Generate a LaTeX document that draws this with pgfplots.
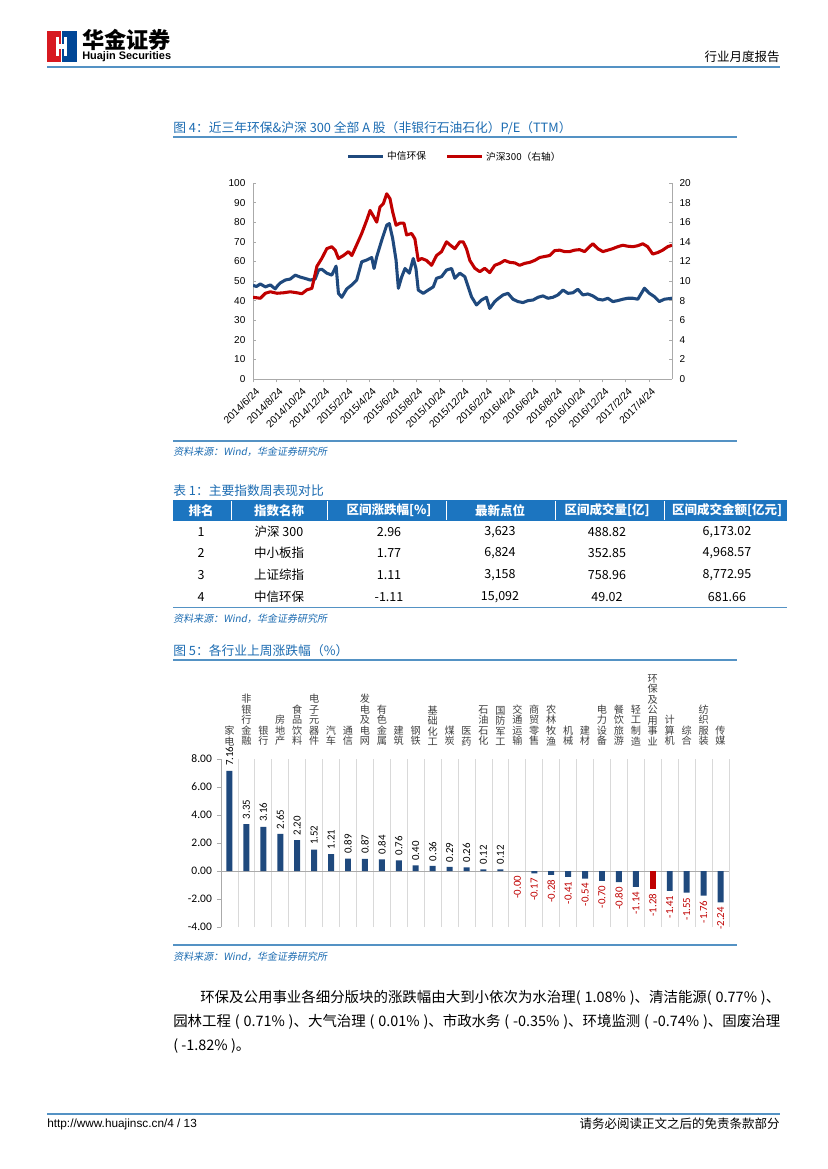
\documentclass[border=0pt]{standalone}
\usepackage{pgfplots}
\pgfplotsset{compat=1.18}
\usepackage{fontspec}
\setmainfont{Liberation Sans}
\newfontfamily\cjk{Noto Sans CJK SC}
\newfontfamily\cjkit{Noto Sans CJK SC}[FakeSlant=0.18]
\newfontfamily\calib{Carlito}
\definecolor{serblue}{RGB}{31,73,125}
\definecolor{serred}{RGB}{192,0,0}
\definecolor{ttlblue}{RGB}{28,108,178}
\definecolor{rulblue}{RGB}{84,146,196}
\definecolor{hdrblue}{RGB}{28,117,192}
\definecolor{axgray}{RGB}{170,170,170}
\definecolor{grdgray}{RGB}{217,217,217}
\definecolor{lblgray}{RGB}{64,64,64}
\definecolor{logored}{RGB}{215,25,32}
\definecolor{logoblue}{RGB}{0,70,150}
\newcommand{\fs}[1]{\fontsize{#1pt}{#1pt}\selectfont}

\begin{document}
\begin{tikzpicture}[x=0.72pt,y=-0.72pt]
\fill[white] (0,0) rectangle (827,1169);

% page header
\fill[logored] (47,31) rectangle (61,62);
\fill[logoblue] (62,31) rectangle (77,62);
\fill[white] (56,37) rectangle (59,56);
\fill[white] (59,44) rectangle (66,49);
\fill[white] (64,37) rectangle (67,56);
\node[anchor=west,inner sep=0,font=\cjk\bfseries\fs{16}] at (82,40) {华金证券};
\node[anchor=west,inner sep=0,font=\bfseries] at (82,57) {\resizebox{64pt}{!}{Huajin Securities}};
\node[anchor=east,inner sep=0,font=\cjk\fs{9}] at (780,57) {行业月度报告};
\draw[rulblue,line width=1.2pt] (47,67) -- (780,67);

% figure 4
\node[anchor=west,inner sep=0,font=\cjk\fs{9.2},text=ttlblue] at (173,128) {图 4：近三年环保\&沪深 300 全部 A 股（非银行石油石化）P/E（TTM）};
\draw[rulblue,line width=0.8pt] (173,137) -- (737,137);
\coordinate (p1) at (253,379);

\begin{axis}[
  at={(p1)}, anchor=south west, scale only axis,
  width=301.68pt, height=141.12pt,
  xmin=0, xmax=36, ymin=0, ymax=100,
  axis x line*=bottom, axis y line*=left,
  axis line style={axgray},
  tick style={axgray}, major tick length=2.5pt,
  xtick={0,2,...,34}, xtick align=outside, ytick align=inside,
  xticklabels={2014/6/24,2014/8/24,2014/10/24,2014/12/24,2015/2/24,2015/4/24,2015/6/24,2015/8/24,2015/10/24,2015/12/24,2016/2/24,2016/4/24,2016/6/24,2016/8/24,2016/10/24,2016/12/24,2017/2/24,2017/4/24},
  xticklabel style={rotate=45, anchor=north east, font=\fs{7.4}, inner sep=1pt, yshift=-2pt},
  ytick={0,10,...,100},
  yticklabel style={font=\fs{7.2}, /pgf/number format/assume math mode=true, xshift=-2pt},
  legend style={at={(0.482,1.133)}, anchor=center, draw=none, fill=none, font=\cjk\fs{7}, legend columns=2, /tikz/every even column/.append style={column sep=12pt}},
  legend image code/.code={\draw[#1] (0pt,0pt) -- (25pt,0pt);},
  legend cell align=left,
]
\addplot[serblue, line width=2.2pt, line join=round] coordinates {
(0,47.8)(0.3,47.2)(0.63,48.5)(1.06,47)(1.49,48)(1.91,46)(2.1,47.5)(2.34,49)(2.77,50.5)(3.2,51)(3.63,53)(4.06,52)(4.49,51.3)(4.91,50.5)(5.34,51)(5.63,55.6)(5.91,56)(6.34,54)(6.77,53)(7.14,57.6)(7.34,43.7)(7.63,41.7)(8.06,46)(8.49,48)(8.91,50.5)(9.34,59.8)(9.77,60.7)(10.2,62)(10.4,56.4)(10.63,62.4)(11.06,70.8)(11.49,78.5)(11.71,79.3)(12.0,71.7)(12.29,60.7)(12.49,46.3)(12.77,52)(13.06,56.4)(13.43,54)(13.77,61.5)(14.0,56.4)(14.2,45.4)(14.63,43.7)(15.06,45.4)(15.49,47)(15.77,51.4)(16.2,52.2)(16.63,55.6)(17.06,56.4)(17.34,51.4)(17.77,54)(18.2,52.2)(18.49,47)(18.77,42)(19.2,37.8)(19.63,40.3)(20.06,41.7)(20.34,36)(20.77,39.5)(21.06,41)(21.49,42.9)(21.91,43.7)(22.34,40.7)(22.77,39.5)(23.2,39)(23.63,40)(24.06,40.3)(24.49,41.7)(24.91,42.4)(25.34,41.2)(25.77,41.7)(26.2,42.9)(26.63,45.4)(27.06,43.7)(27.49,44)(27.91,45.8)(28.34,42.9)(28.77,43.4)(29.2,42.4)(29.63,40.7)(30.06,40.3)(30.49,41.2)(30.91,39.5)(31.34,40)(31.77,40.7)(32.2,41.2)(32.63,41.2)(33.06,40.7)(33.63,46.3)(34.06,43.7)(34.49,42)(34.91,39.5)(35.34,40.7)(36,41.2)
};
\addlegendentry{中信环保}
\addlegendimage{serred, line width=2.2pt}
\addlegendentry{沪深300（右轴）}
\end{axis}

\begin{axis}[
  at={(p1)}, anchor=south west, scale only axis,
  width=301.68pt, height=141.12pt,
  xmin=0, xmax=36, ymin=0, ymax=20,
  axis x line=none, axis y line*=right,
  axis line style={axgray},
  tick style={axgray}, major tick length=2.5pt, ytick align=inside,
  ytick={0,2,...,20},
  yticklabel style={font=\fs{7.2}, /pgf/number format/assume math mode=true, xshift=2pt},
]
\addplot[serred, line width=2.2pt, line join=round] coordinates {
(0,8.34)(0.63,8.24)(1.06,8.75)(1.49,8.9)(2.06,8.75)(2.63,8.8)(3.2,8.9)(3.77,8.8)(4.2,8.7)(4.63,9.1)(5.06,9.25)(5.49,11.5)(5.91,12.3)(6.34,13.3)(6.77,13.5)(7.06,13.15)(7.34,12.3)(7.77,12.6)(8.2,13.0)(8.49,12.6)(8.91,13.7)(9.34,14.85)(9.77,16.2)(10.06,17.2)(10.4,16.5)(10.63,16.0)(10.91,17.55)(11.2,17.9)(11.49,18.9)(11.77,18.4)(12.0,17.05)(12.29,15.7)(12.63,15.9)(12.97,15.9)(13.2,14.7)(13.63,14.85)(13.91,14.3)(14.2,12.1)(14.49,12.3)(14.91,12.1)(15.34,11.6)(15.77,12.6)(16.2,13.0)(16.63,14.0)(16.91,13.7)(17.34,13.3)(17.77,14.0)(18.06,14.0)(18.34,13.3)(18.63,12.1)(19.06,11.3)(19.49,10.95)(19.91,11.3)(20.34,10.85)(20.77,11.6)(21.2,11.8)(21.63,12.1)(22.06,11.9)(22.49,11.85)(22.91,11.6)(23.34,11.8)(23.77,11.9)(24.2,12.1)(24.63,12.4)(25.06,12.5)(25.49,12.6)(25.91,13.1)(26.34,13.15)(26.77,13.0)(27.2,13.0)(27.63,13.15)(28.06,13.2)(28.49,13.0)(28.91,13.5)(29.2,13.8)(29.63,13.3)(30.06,13.0)(30.49,13.15)(30.91,13.3)(31.34,13.5)(31.77,13.65)(32.2,13.55)(32.63,13.5)(33.06,13.6)(33.49,13.8)(33.91,13.5)(34.34,12.75)(34.77,12.9)(35.2,13.15)(35.63,13.5)(36,13.65)
};
\end{axis}

\draw[rulblue,line width=0.8pt] (173,441) -- (737,441);
\node[anchor=west,inner sep=0,font=\cjkit\fs{7.2},text=ttlblue] at (173,452) {资料来源：Wind，华金证券研究所};

% table 1
\node[anchor=west,inner sep=0,font=\cjk\fs{9.2},text=ttlblue] at (173,491) {表 1：主要指数周表现对比};
\fill[hdrblue] (173,500) rectangle (787,521);
\foreach \xx in {231,327,446,555,664} \draw[white,line width=0.5pt] (\xx,501) -- (\xx,520);
\foreach \xx/\tt in {201/排名,279/指数名称,389/区间涨跌幅[\%],500/最新点位,607/区间成交量[亿],727/区间成交金额[亿元]}
  \node[inner sep=0,font=\cjk\bfseries\fs{9},text=white] at (\xx,510.5) {\tt};
\foreach \xx/\tt in {201/1,279/沪深 300,389/2.96,500/{3,623},607/488.82,727/{6,173.02}}
  \node[inner sep=0,font=\cjk\fs{9}] at (\xx,532) {\tt};
\foreach \xx/\tt in {201/2,279/中小板指,389/1.77,500/{6,824},607/352.85,727/{4,968.57}}
  \node[inner sep=0,font=\cjk\fs{9}] at (\xx,553) {\tt};
\foreach \xx/\tt in {201/3,279/上证综指,389/1.11,500/{3,158},607/758.96,727/{8,772.95}}
  \node[inner sep=0,font=\cjk\fs{9}] at (\xx,575) {\tt};
\foreach \xx/\tt in {201/4,279/中信环保,389/-1.11,500/{15,092},607/49.02,727/681.66}
  \node[inner sep=0,font=\cjk\fs{9}] at (\xx,597) {\tt};
\draw[rulblue,line width=1.2pt] (173,607.5) -- (787,607.5);
\node[anchor=west,inner sep=0,font=\cjkit\fs{7.2},text=ttlblue] at (173,619) {资料来源：Wind，华金证券研究所};

% figure 5
\node[anchor=west,inner sep=0,font=\cjk\fs{9.2},text=ttlblue] at (173,651) {图 5：各行业上周涨跌幅（\%）};
\draw[rulblue,line width=0.8pt] (173,660) -- (737,660);
\coordinate (p2) at (221,927);

\begin{axis}[
  at={(p2)}, anchor=south west, scale only axis,
  width=365.76pt, height=120.96pt,
  xmin=-0.5, xmax=29.5, ymin=-4, ymax=8,
  axis y line*=left, axis x line*=top,
  x axis line style={draw=none},
  axis line style={axgray},
  ytick={-4,-2,...,8}, ytick align=outside, major tick length=3pt,
  y tick style={axgray},
  yticklabel style={font=\calib\fs{8.3}, /pgf/number format/.cd, fixed, fixed zerofill, precision=2, assume math mode=true},
  scaled y ticks=false,
  xtick={0,...,29}, major x tick style={draw=none},
  xticklabels={{家\\电},{非\\银\\行\\金\\融},{银\\行},{房\\地\\产},{食\\品\\饮\\料},{电\\子\\元\\器\\件},{汽\\车},{通\\信},{发\\电\\及\\电\\网},{有\\色\\金\\属},{建\\筑},{钢\\铁},{基\\础\\化\\工},{煤\\炭},{医\\药},{石\\油\\石\\化},{国\\防\\军\\工},{交\\通\\运\\输},{商\\贸\\零\\售},{农\\林\\牧\\渔},{机\\械},{建\\材},{电\\力\\设\\备},{餐\\饮\\旅\\游},{轻\\工\\制\\造},{环\\保\\及\\公\\用\\事\\业},{计\\算\\机},{综\\合},{纺\\织\\服\\装},{传\\媒}},
  xticklabel style={font=\cjk\fontsize{7.3pt}{7.6pt}\selectfont, align=center, text=lblgray, yshift=3pt},
  minor xtick={0.5,1.5,...,29.5}, minor tick length=0pt,
  xminorgrids, minor x grid style={grdgray, line width=0.6pt},
  extra y ticks={0}, extra y tick labels={},
  extra y tick style={grid=major, major grid style={axgray, line width=0.6pt}, major tick length=0pt},
  ybar, bar width=4.3pt,
  point meta=explicit symbolic,
  nodes near coords,
]
\addplot[fill=serblue, draw=none, bar shift=0pt,
  nodes near coords style={rotate=90, anchor=west, font=\calib\fs{7.8}, text=black}]
  table[meta=l] {
x y l
0 7.16 7.16
1 3.35 3.35
2 3.16 3.16
3 2.65 2.65
4 2.20 2.20
5 1.52 1.52
6 1.21 1.21
7 0.89 0.89
8 0.87 0.87
9 0.84 0.84
10 0.76 0.76
11 0.40 0.40
12 0.36 0.36
13 0.29 0.29
14 0.26 0.26
15 0.12 0.12
16 0.12 0.12
};
\addplot[fill=serblue, draw=none, bar shift=0pt,
  nodes near coords style={rotate=90, anchor=east, font=\calib\fs{7.8}, text=serred}]
  table[meta=l] {
x y l
17 -0.004 -0.00
18 -0.17 -0.17
19 -0.28 -0.28
20 -0.41 -0.41
21 -0.54 -0.54
22 -0.70 -0.70
23 -0.80 -0.80
24 -1.14 -1.14
26 -1.41 -1.41
27 -1.55 -1.55
28 -1.76 -1.76
29 -2.24 -2.24
};
\addplot[fill=serred, draw=none, bar shift=0pt,
  nodes near coords style={rotate=90, anchor=east, font=\calib\fs{7.8}, text=serred}]
  table[meta=l] {
x y l
25 -1.28 -1.28
};
\end{axis}

\draw[rulblue,line width=0.8pt] (173,945) -- (737,945);
\node[anchor=west,inner sep=0,font=\cjkit\fs{7.2},text=ttlblue] at (173,957) {资料来源：Wind，华金证券研究所};

% text
\node[anchor=west,inner sep=0,font=\cjk\fs{10.4}] at (200,998) {\makebox[417.6pt][s]{环保及公用事业各细分版块的涨跌幅由大到小依次为水治理( 1.08\% )、清洁能源( 0.77\% )、}};
\node[anchor=west,inner sep=0,font=\cjk\fs{10.4}] at (173,1022) {\makebox[437pt][s]{园林工程 ( 0.71\% )、大气治理 ( 0.01\% )、市政水务 ( -0.35\% )、环境监测 ( -0.74\% )、固废治理}};
\node[anchor=west,inner sep=0,font=\cjk\fs{10.4}] at (173,1046) {( -1.82\% )。};

% footer
\draw[rulblue,line width=1.2pt] (47,1114) -- (780,1114);
\node[anchor=west,inner sep=0,font=\fs{8.5}] at (47,1124) {http://www.huajinsc.cn/4 / 13};
\node[anchor=east,inner sep=0,font=\cjk\fs{9}] at (780,1124) {请务必阅读正文之后的免责条款部分};
\end{tikzpicture}
\end{document}
